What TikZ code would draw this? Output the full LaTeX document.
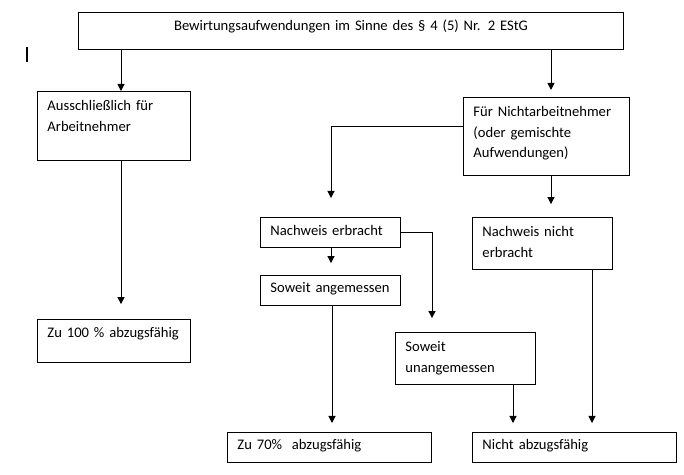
\documentclass[tikz,border=0pt]{standalone}
\usepackage{fontspec}
\setmainfont{Carlito}[WordSpace=0.7]
\usetikzlibrary{arrows.meta}

\tikzset{
  box/.style={draw, line width=0.7pt, anchor=north west, inner xsep=7.09pt, inner ysep=0pt,
    align=left, font=\fontsize{10.4}{14.5}\selectfont},
  flow/.style={-{Triangle[width=5pt,length=5pt]}, line width=0.7pt},
}

\begin{document}
\begin{tikzpicture}[x=0.025cm, y=-0.025cm]
\useasboundingbox (0,0) rectangle (684,474);
% Kopf
\node[box, align=center, text width=13.125cm, text height=12.6pt, text depth=13.6pt] (kopf) at (78,12)
  {Bewirtungsaufwendungen im Sinne des § 4 (5) Nr. 2 EStG};
\draw[line width=1.3pt] (27,47) -- (27,62);
% linker Zweig
\node[box, text width=3.325cm, text height=13.8pt, text depth=35.1pt] (nur) at (37,91)
  {Ausschließlich für\\Arbeitnehmer};
\node[box, text width=3.325cm, text height=13.1pt, text depth=17.4pt] (voll) at (37,319)
  {\mbox{Zu 100 \% abzugsfähig}};
% rechter Zweig
\node[box, text width=3.65cm, text height=13.8pt, text depth=41.5pt] (fna) at (463,97)
  {Für Nichtarbeitnehmer\\(oder gemischte\\Aufwendungen)};
\node[box, text width=3cm, text height=13.1pt, text depth=8.15pt] (ne) at (260,217) {Nachweis erbracht};
\node[box, text width=3cm, text height=13.8pt, text depth=23pt] (nne) at (472,217) {Nachweis nicht\\erbracht};
\node[box, text width=3cm, text height=12.4pt, text depth=8.9pt] (sa) at (260,275) {Soweit angemessen};
\node[box, text width=3cm, text height=13.8pt, text depth=23pt] (su) at (395,332) {Soweit\\unangemessen};
\node[box, text width=4.6cm, text height=12.4pt, text depth=8.9pt] (z70) at (227,432) {Zu 70\%\ \ abzugsfähig};
\node[box, text width=4.6cm, text height=12.4pt, text depth=8.9pt] (nab) at (472,432) {Nicht abzugsfähig};
% Pfeile
\draw[flow] (kopf.south -| 121,0) -- (nur.north -| 121,0);
\draw[flow, shorten >=5pt] (kopf.south -| 551,0) -- (fna.north -| 551,0);
\draw[flow, shorten >=10.6pt] (nur.south -| 121,0) -- (voll.north -| 121,0);
\draw[flow, shorten >=13.5pt] (fna.west |- 0,126) -| (ne.north -| 331,0);
\draw[flow, shorten >=9.2pt] (fna.south -| 551,0) -- (nne.north -| 551,0);
\draw[flow, shorten >=8.5pt] (ne.south -| 331,0) -- (sa.north -| 331,0);
\draw[flow, shorten >=9.9pt] (ne.east) -| (su.north -| 432,0);
\draw[flow, shorten >=6.4pt] (sa.south -| 332,0) -- (z70.north -| 332,0);
\draw[flow, shorten >=6.4pt] (su.south -| 513,0) -- (nab.north -| 513,0);
\draw[flow, shorten >=6.4pt] (nne.south -| 592,0) -- (nab.north -| 592,0);
\end{tikzpicture}
\end{document}
